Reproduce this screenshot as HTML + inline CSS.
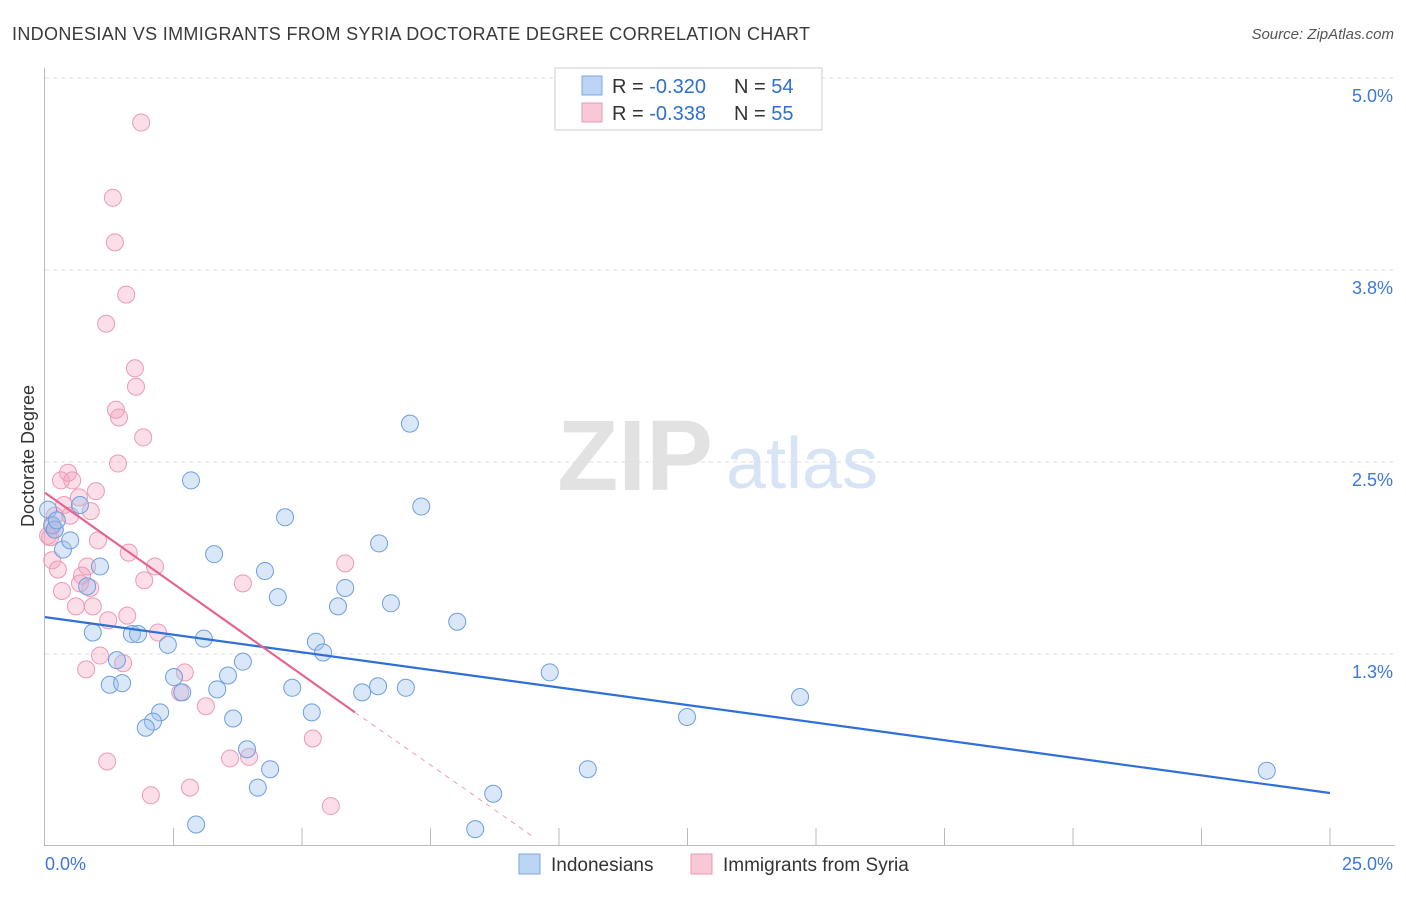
<!DOCTYPE html>
<html><head><meta charset="utf-8">
<style>
body{margin:0;background:#fff;font-family:"Liberation Sans",sans-serif;}
svg text{font-family:"Liberation Sans",sans-serif;}
</style></head>
<body>
<svg id="chart" width="1406" height="892" viewBox="0 0 1406 892" xmlns="http://www.w3.org/2000/svg">
<text x="12" y="40" font-size="18" fill="#3a3a3a" textLength="798" lengthAdjust="spacing">INDONESIAN VS IMMIGRANTS FROM SYRIA DOCTORATE DEGREE CORRELATION CHART</text>
<text x="1394" y="39" font-size="15" fill="#555" font-style="italic" text-anchor="end">Source: ZipAtlas.com</text>
<text x="34" y="456" font-size="18" fill="#333" text-anchor="middle" transform="rotate(-90 34 456)">Doctorate Degree</text>
<g>
<text x="635" y="490" font-size="100" fill="#e2e2e2" font-family="Liberation Serif" text-anchor="middle" font-weight="bold">ZIP</text>
<text x="802" y="488" font-size="72" fill="#d6e4f5" text-anchor="middle">atlas</text>
</g>
<g id="grid"></g>
<g id="axes"></g>
<g id="points"></g>
<g id="trends"></g>
<g>
<rect x="555" y="68" width="267" height="62" fill="#fff" stroke="#ccc"/>
<rect x="582" y="76" width="20" height="19" fill="#bcd5f5" stroke="#7aa8e0"/>
<text x="612" y="93" font-size="20" fill="#333">R = <tspan fill="#2f6fd0">-0.320</tspan></text>
<text x="734" y="93" font-size="20" fill="#333">N = <tspan fill="#2f6fd0">54</tspan></text>
<rect x="582" y="103" width="20" height="19" fill="#f9c8d7" stroke="#eb98b2"/>
<text x="612" y="120" font-size="20" fill="#333">R = <tspan fill="#2f6fd0">-0.338</tspan></text>
<text x="734" y="120" font-size="20" fill="#333">N = <tspan fill="#2f6fd0">55</tspan></text>
</g>
<g>
<rect x="519" y="854" width="21" height="20" fill="#bcd5f5" stroke="#7aa8e0"/>
<text x="551" y="871" font-size="19" fill="#333">Indonesians</text>
<rect x="691" y="854" width="21" height="20" fill="#f9c8d7" stroke="#eb98b2"/>
<text x="723" y="871" font-size="19" fill="#333">Immigrants from Syria</text>
</g>
</svg>
<script>
const yTicks=[1.25,2.5,3.75,5.0];
const yTickLabels=["1.3%","2.5%","3.8%","5.0%"];
const xTickCount=10;
const xLabels=["0.0%","25.0%"];
const blueX=[0.06,0.14,0.19,0.23,0.35,0.49,0.68,1.07,0.82,0.93,1.69,1.81,1.40,1.26,1.50,2.39,2.84,3.09,3.29,2.51,2.67,3.35,3.56,3.85,2.24,2.10,1.96,3.66,3.93,4.38,4.14,2.94,4.67,4.28,4.53,4.81,5.19,5.27,5.41,5.70,5.84,6.50,6.73,7.10,7.32,8.02,6.17,6.48,7.02,9.82,8.72,8.37,10.56,12.49,14.69,23.77];
const blueY=[2.19,2.09,2.06,2.12,1.93,1.99,2.22,1.82,1.69,1.39,1.38,1.38,1.21,1.05,1.06,1.31,2.38,1.35,1.90,1.10,1.00,1.02,1.11,1.20,0.87,0.81,0.77,0.83,0.63,0.50,0.38,0.14,2.14,1.79,1.62,1.03,0.87,1.33,1.26,1.56,1.68,1.97,1.58,2.75,2.21,1.46,1.00,1.04,1.03,1.13,0.34,0.11,0.50,0.84,0.97,0.49];
const pinkX=[1.87,1.32,1.36,1.58,1.19,1.75,1.77,1.38,1.44,1.91,1.42,0.45,0.53,0.31,0.99,0.66,0.37,0.89,0.49,0.19,0.14,0.10,1.03,0.14,0.25,1.63,0.82,2.14,0.72,1.93,0.68,0.88,0.33,0.93,0.60,1.60,1.23,1.07,2.20,1.52,0.80,2.72,3.85,2.63,3.13,3.60,3.97,5.21,5.84,1.21,2.82,2.06,5.56,0.19,0.06];
const pinkY=[4.71,4.22,3.93,3.59,3.40,3.11,2.99,2.84,2.79,2.66,2.49,2.43,2.38,2.38,2.31,2.27,2.22,2.18,2.15,2.15,2.08,2.01,1.99,1.86,1.80,1.91,1.82,1.82,1.76,1.73,1.71,1.68,1.66,1.56,1.56,1.50,1.47,1.24,1.39,1.19,1.15,1.13,1.71,1.00,0.91,0.57,0.58,0.70,1.84,0.55,0.38,0.33,0.26,2.06,2.02];
const blueTrend=[[0,1.49],[25,0.345]];
const pinkTrendSolid=[[0,2.30],[6.03,0.87]];
const pinkTrendDash=[[6.03,0.87],[9.5,0.06]];

const NS="http://www.w3.org/2000/svg";
const X0=45,X1=1330,Y0=846,PXPER=153.6;
function sx(v){return X0+(X1-X0)*v/25;}
function sy(v){return Y0-v*PXPER;}
function mk(tag,attrs,parent){const e=document.createElementNS(NS,tag);for(const k in attrs)e.setAttribute(k,attrs[k]);parent.appendChild(e);return e;}
const grid=document.getElementById('grid'),axes=document.getElementById('axes'),pts=document.getElementById('points'),tr=document.getElementById('trends');
yTicks.forEach((t,i)=>{
 const l=mk('line',{x1:45,x2:1395,y1:sy(t),y2:sy(t),stroke:'#ddd','stroke-dasharray':'4,4'},grid);
 
 
 const tx=mk('text',{x:1393,y:sy(t)+24,'font-size':18,fill:'#3b78d8','text-anchor':'end'},axes);
 tx.textContent=yTickLabels[i];
 
 
});
const ax=mk('line',{x1:44.5,x2:44.5,y1:68,y2:846,stroke:'#bbb'},axes);


const bx=mk('line',{x1:45,x2:1395,y1:845.5,y2:845.5,stroke:'#bbb'},axes);


for(let i=1;i<=xTickCount;i++){
 const t=mk('line',{x1:sx(i*2.5),x2:sx(i*2.5),y1:828,y2:846,stroke:'#bbb'},axes);
 
 
}
const xl0=mk('text',{x:45,y:870,'font-size':18,fill:'#3b78d8'},axes);xl0.textContent=xLabels[0];


const xl1=mk('text',{x:1393,y:870,'font-size':18,fill:'#3b78d8','text-anchor':'end'},axes);xl1.textContent=xLabels[1];


pinkX.forEach((v,i)=>{
 const c=mk('circle',{cx:sx(v),cy:sy(pinkY[i]),r:8.5,fill:'rgba(244,160,188,0.35)',stroke:'#eb9ab4','stroke-width':1},pts);
 
 
});
blueX.forEach((v,i)=>{
 const c=mk('circle',{cx:sx(v),cy:sy(blueY[i]),r:8.5,fill:'rgba(160,196,240,0.4)',stroke:'#6c9fe0','stroke-width':1},pts);
 
 
});
const bl=mk('line',{x1:sx(blueTrend[0][0]),y1:sy(blueTrend[0][1]),x2:sx(blueTrend[1][0]),y2:sy(blueTrend[1][1]),stroke:'#2f6fd8','stroke-width':2.2},tr);


const pl=mk('line',{x1:sx(pinkTrendSolid[0][0]),y1:sy(pinkTrendSolid[0][1]),x2:sx(pinkTrendSolid[1][0]),y2:sy(pinkTrendSolid[1][1]),stroke:'#e5648e','stroke-width':2.2},tr);


const pd=mk('line',{x1:sx(pinkTrendDash[0][0]),y1:sy(pinkTrendDash[0][1]),x2:sx(pinkTrendDash[1][0]),y2:sy(pinkTrendDash[1][1]),stroke:'#e9a0b8','stroke-width':1,'stroke-dasharray':'5,5'},tr);


</script>
</body></html>
